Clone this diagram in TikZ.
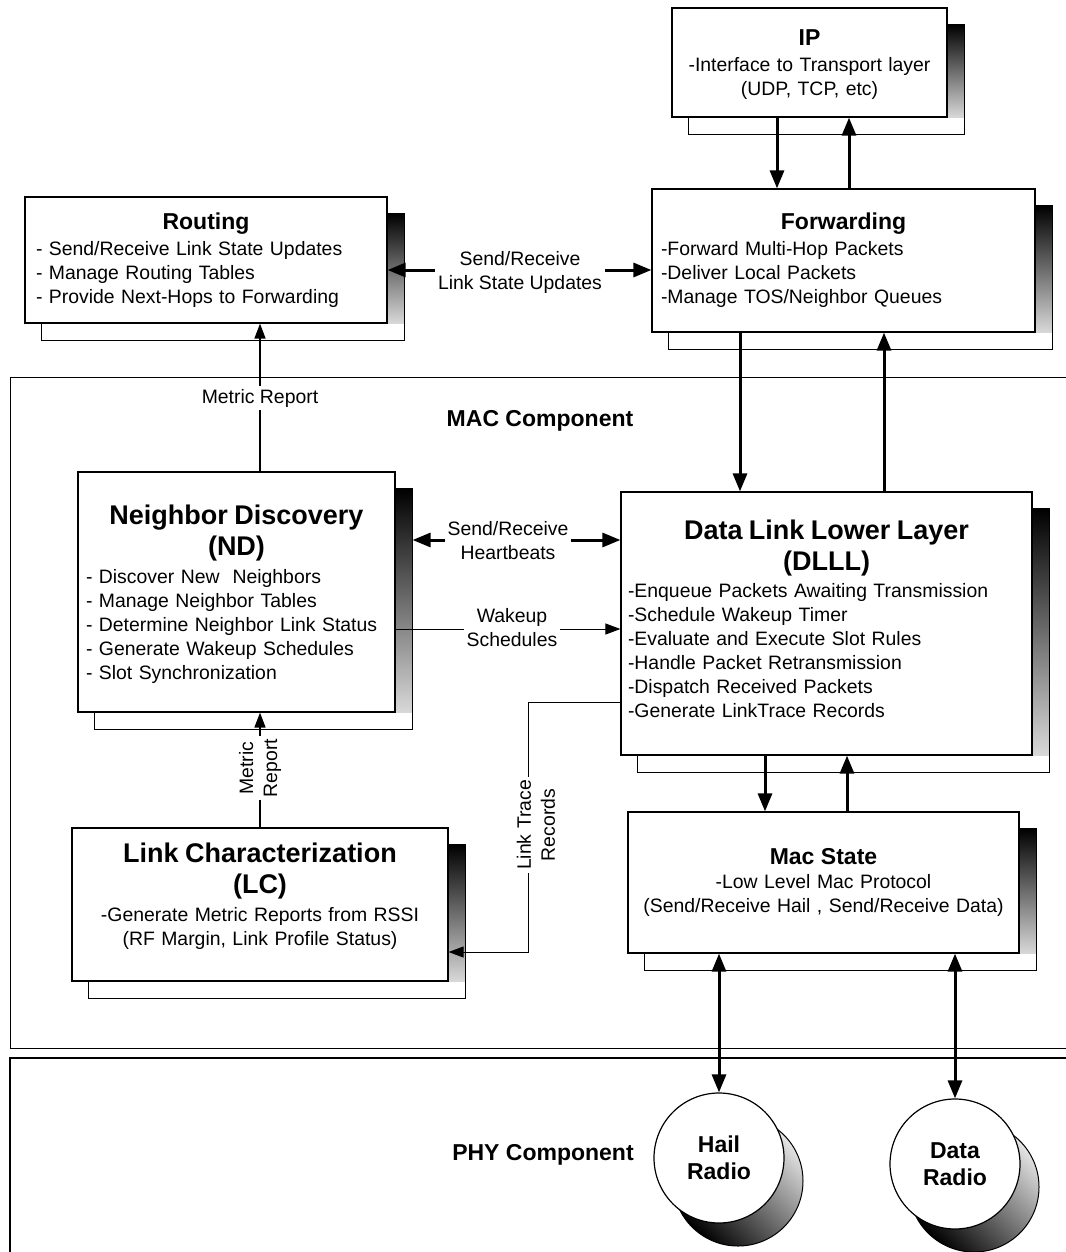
\documentclass[tikz,border=0pt]{standalone}
\usepackage{fontspec}
\setmainfont{Liberation Sans}
\usetikzlibrary{arrows.meta,backgrounds}
\setlength\parindent{0pt}
\newcommand\boxtitle{\fontsize{23}{27}\selectfont\bfseries}
\newcommand\bigtitle{\fontsize{27}{31}\selectfont\bfseries}
\newcommand\compshadow[1]{%
  \fill[white] ([shift={(17pt,-17pt)}]#1.south west) rectangle ([shift={(17pt,-17pt)}]#1.north east);
  \shade[top color=black, middle color=black!85, bottom color=black!15]
    ([yshift=-17pt]#1.north east) rectangle ([xshift=17pt]#1.south east);
  \draw[line width=1pt] ([shift={(17pt,-17pt)}]#1.south west) rectangle ([shift={(17pt,-17pt)}]#1.north east);}
\newcommand\radioshadow[1]{%
  \shade[top color=black!10, middle color=black!75, bottom color=black, shading angle=-45]
    ([shift={(19pt,-23pt)}]#1.center) circle[radius=65pt];
  \draw[line width=1pt] ([shift={(19pt,-23pt)}]#1.center) circle[radius=65pt];}

\begin{document}
\begin{tikzpicture}[x=1pt, y=-1pt,
every node/.style={font=\fontsize{19.4}{24}\selectfont},
comp/.style={draw, fill=white, line width=1.2pt, inner sep=0pt},
radio/.style={circle, draw, fill=white, line width=1.2pt, minimum size=130pt, inner sep=0pt, align=center, font=\boxtitle},
lbl/.style={fill=white, inner sep=3pt, align=center},
bigarrow/.style={line width=3pt, -{Triangle[length=18pt,width=14pt]}},
bothways/.style={line width=3pt, {Triangle[length=18pt,width=14pt]}-{Triangle[length=18pt,width=14pt]}},
midarrow/.style={line width=1.6pt, -{Triangle[length=15pt,width=11pt]}},
thinarrow/.style={line width=1pt, -{Triangle[length=15pt,width=11pt]}}]
\useasboundingbox (0,0) rectangle (1065,1252);

\draw[line width=0.8pt] (1080,377) -- (10,377) -- (10,1048) -- (1080,1048);
\draw[line width=1.5pt] (1080,1058) -- (10,1058) -- (10,1270);
\node[font=\boxtitle] (maclbl) at (540,421) {MAC Component};
\node[font=\boxtitle] (phylbl) at (543,1155) {PHY Component};

\node[comp, minimum width=275pt, minimum height=109pt, text width=255pt, align=center] (ip) at (809.5,62.5)
{{\boxtitle IP\par}\vspace{2pt}-Interface to Transport layer\\(UDP, TCP, etc)\par\vskip-4pt\hrule height0pt};
\node[comp, minimum width=362pt, minimum height=126pt, text width=340pt, align=left] (routing) at (206,260)
{{\centering\boxtitle Routing\par}\vspace{2pt}- Send/Receive Link State Updates\\- Manage Routing Tables\\- Provide Next-Hops to Forwarding};
\node[comp, minimum width=383pt, minimum height=143pt, text width=365pt, align=left] (fwd) at (843.5,260.5)
{{\centering\boxtitle Forwarding\par}\vspace{2pt}-Forward Multi-Hop Packets\\-Deliver Local Packets\\-Manage TOS/Neighbor Queues};
\node[comp, minimum width=317pt, minimum height=240pt, text width=301pt, align=left] (nd) at (236.5,592)
{{\centering\bigtitle Neighbor Discovery\\(ND)\par}\vspace{4pt}- Discover New~ Neighbors\\- Manage Neighbor Tables\\- Determine Neighbor Link Status\\- Generate Wakeup Schedules\\- Slot Synchronization\par\vskip-4pt\hrule height0pt};
\node[comp, minimum width=411pt, minimum height=263pt, text width=397pt, align=left] (dlll) at (826.5,623.5)
{{\centering\bigtitle Data Link Lower Layer\\(DLLL)\par}\vspace{3pt}-Enqueue Packets Awaiting Transmission\\-Schedule Wakeup Timer\\-Evaluate and Execute Slot Rules\\-Handle Packet Retransmission\\-Dispatch Received Packets\\-Generate LinkTrace Records\par\vskip10pt\hrule height0pt};
\node[comp, minimum width=376pt, minimum height=153pt, text width=360pt, align=center] (lc) at (260,904.5)
{{\bigtitle Link Characterization\\(LC)\par}\vspace{4pt}-Generate Metric Reports from RSSI\\(RF Margin, Link Profile Status)\par\vskip17pt\hrule height0pt};
\node[comp, minimum width=391pt, minimum height=141pt, text width=385pt, align=center] (mac) at (823.5,882.5)
{{\boxtitle Mac State\par}-Low Level Mac Protocol\\(Send/Receive Hail , Send/Receive Data)};
\node[radio] (hail) at (719,1158) {Hail\\Radio};
\node[radio] (data) at (955,1164) {Data\\Radio};

\begin{scope}[on background layer]
\compshadow{ip}
\compshadow{routing}
\compshadow{fwd}
\compshadow{nd}
\compshadow{dlll}
\compshadow{lc}
\compshadow{mac}
\radioshadow{hail}
\radioshadow{data}
\end{scope}

\coordinate (ndedge) at ([xshift=17pt]nd.east);
\coordinate (tracebend) at (528,952);

\draw[bigarrow] (777,0 |- ip.south) -- (777,0 |- fwd.north);
\draw[bigarrow] (849,0 |- fwd.north) -- (849,0 |- ip.south);
\draw[bothways] (routing.east |- 0,270) -- (fwd.west |- 0,270);
\draw[bigarrow] (740,0 |- fwd.south) -- (740,0 |- dlll.north);
\draw[bigarrow] (884,0 |- dlll.north) -- (884,0 |- fwd.south);
\draw[bigarrow] (765,0 |- dlll.south) -- (765,0 |- mac.north);
\draw[bigarrow] (847,0 |- mac.north) -- (847,0 |- dlll.south);
\draw[bothways] (hail.north) -- (hail.north |- mac.south);
\draw[bothways] (data.north) -- (data.north |- mac.south);
\draw[bothways] (ndedge |- 0,540) -- (dlll.west |- 0,540);
\draw[thinarrow] (nd.east |- 0,629) -- (dlll.west |- 0,629);
\draw[thinarrow] (dlll.west |- 0,702) -| (tracebend) -- (tracebend -| lc.east);
\draw[midarrow] (260,0 |- nd.north) -- (260,0 |- routing.south);
\draw[midarrow] (lc.north) -- (lc.north |- nd.south);

\node[lbl] (lsu) at (520,272) {Send/Receive\\Link State Updates};
\node[lbl] (hb) at (508,541) {Send/Receive\\Heartbeats};
\node[lbl] (wake) at (512,628) {Wakeup\\Schedules};
\node[lbl, rotate=90] (trace) at (536,825) {Link Trace\\Records};
\node[lbl] (metric) at (260,398) {Metric Report};
\node[lbl, rotate=90] (lcmetric) at (260,768) {Metric\\Report};
\end{tikzpicture}
\end{document}
